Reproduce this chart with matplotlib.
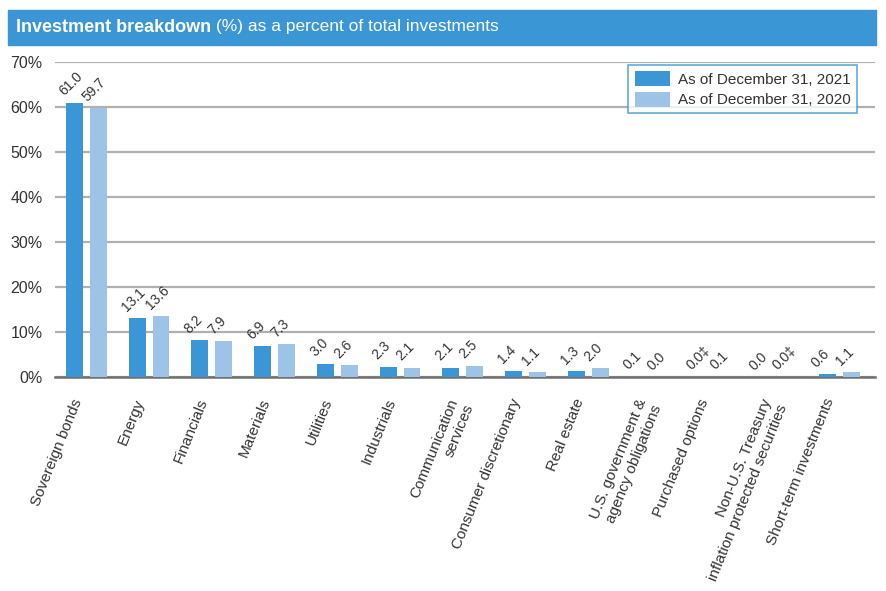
import matplotlib
matplotlib.use("Agg")
import matplotlib.pyplot as plt
import numpy as np
from matplotlib.patches import Rectangle

plt.rcParams['font.family'] = ['Liberation Sans', 'DejaVu Sans']

# datos
categorias = ["Sovereign bonds", "Energy", "Financials", "Materials", "Utilities",
              "Industrials", "Communication\nservices", "Consumer discretionary",
              "Real estate", "U.S. government &\nagency obligations", "Purchased options",
              "Non-U.S. Treasury\ninflation protected securities", "Short-term investments"]
val_2021 = [61.0, 13.1, 8.2, 6.9, 3.0, 2.3, 2.1, 1.4, 1.3, 0.1, 0.0, 0.0, 0.6]
val_2020 = [59.7, 13.6, 7.9, 7.3, 2.6, 2.1, 2.5, 1.1, 2.0, 0.0, 0.1, 0.0, 1.1]
etq_2021 = ["61.0", "13.1", "8.2", "6.9", "3.0", "2.3", "2.1", "1.4", "1.3", "0.1", "0.0‡", "0.0", "0.6"]
etq_2020 = ["59.7", "13.6", "7.9", "7.3", "2.6", "2.1", "2.5", "1.1", "2.0", "0.0", "0.1", "0.0‡", "1.1"]
serie_2021 = "As of December 31, 2021"
serie_2020 = "As of December 31, 2020"

azul = "#3a96d4"
azul_claro = "#9dc3e6"
gris_txt = "#333333"

fig = plt.figure(figsize=(8.87, 5.91), dpi=100)
ax = fig.add_axes([55 / 887, 1 - 377 / 591, 820 / 887, 315 / 591])

# banda del titulo (zorder bajo para no tapar el subtitulo)
fig.patches.append(Rectangle((8 / 887, 1 - 45 / 591), 868 / 887, 35 / 591,
                             transform=fig.transFigure, color=azul, zorder=-1))
t1 = fig.text(16 / 887, 1 - 27 / 591, "Investment breakdown", color="white",
              fontsize=13, fontweight="bold", va="center")
ax.annotate(" (%) as a percent of total investments", xy=(1, 0.5), xycoords=t1,
            va="center", ha="left", color="white", fontsize=12.5,
            annotation_clip=False, clip_on=False)

x = np.arange(len(categorias))
w = 0.27
off = 0.19
b1 = ax.bar(x - off, val_2021, w, color=azul, label=serie_2021, zorder=3)
b2 = ax.bar(x + off, val_2020, w, color=azul_claro, label=serie_2020, zorder=3)

for rects, etqs in [(b1, etq_2021), (b2, etq_2020)]:
    for r, e in zip(rects, etqs):
        ax.annotate(e, xy=(r.get_x() + r.get_width() / 2, r.get_height()),
                    xytext=(-6, 3), textcoords="offset points", ha="left", va="bottom",
                    rotation=45, rotation_mode="anchor", fontsize=10, color=gris_txt)

ax.set_ylim(0, 70)
ax.set_xlim(-0.5, 12.57)
ax.set_yticks(np.arange(0, 71, 10))
ax.set_yticklabels([f"{v}%" for v in range(0, 71, 10)], fontsize=11.5, color=gris_txt)
ax.yaxis.grid(True, color="#b0b0b0", linewidth=1.6, zorder=0)
ax.set_axisbelow(True)
for s in ["top", "right", "left"]:
    ax.spines[s].set_visible(False)
ax.spines["bottom"].set_color("#707070")
ax.spines["bottom"].set_linewidth(1.8)
ax.tick_params(axis="y", length=0, pad=9)
ax.tick_params(axis="x", length=0, pad=14)

ax.set_xticks(x - 0.24)
ax.set_xticklabels(categorias, rotation=68, ha="right", va="top", rotation_mode="anchor",
                   fontsize=11, color=gris_txt, multialignment="right")

leg = ax.legend(loc="upper right", bbox_to_anchor=(0.978, 0.99), fontsize=11,
                frameon=True, fancybox=False, edgecolor=azul, handlelength=2.3,
                handleheight=1.15, handletextpad=0.55, borderpad=0.4,
                labelspacing=0.3, borderaxespad=0)
leg.get_frame().set_linewidth(1.2)
for t in leg.get_texts():
    t.set_color(gris_txt)

fig.savefig("out.png", dpi=100)
